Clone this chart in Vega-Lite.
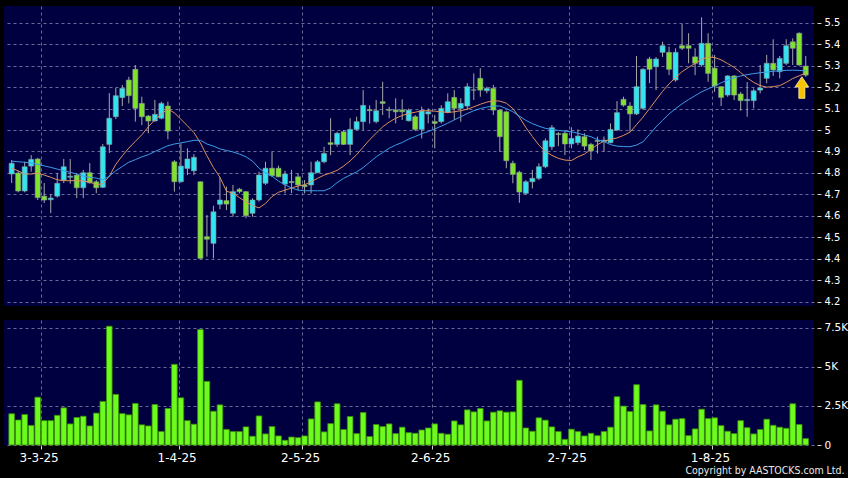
{
 "$schema": "https://vega.github.io/schema/vega-lite/v6.json",
 "background": "#000000",
 "padding": {"left": 4, "top": 6, "right": 0, "bottom": 2},
 "title": {"text": "Copyright by AASTOCKS.com Ltd.", "orient": "bottom", "anchor": "end", "fontSize": 10.5, "font": "DejaVu Sans Condensed, DejaVu Sans", "fontWeight": "normal", "color": "#e8e8e8", "offset": 3, "dx": -3},
 "datasets": {
  "k": [
   {"i":0,"o":4.795,"h":4.86,"l":4.753,"c":4.845,"v":2000,"m1":4.822,"m2":4.855},
   {"i":1,"o":4.8,"h":4.81,"l":4.71,"c":4.716,"v":1600,"m1":4.81,"m2":4.852},
   {"i":2,"o":4.716,"h":4.852,"l":4.71,"c":4.829,"v":1950,"m1":4.795,"m2":4.85},
   {"i":3,"o":4.832,"h":4.883,"l":4.806,"c":4.863,"v":1250,"m1":4.795,"m2":4.846},
   {"i":4,"o":4.865,"h":4.87,"l":4.674,"c":4.685,"v":3060,"m1":4.8,"m2":4.84},
   {"i":5,"o":4.692,"h":4.753,"l":4.66,"c":4.674,"v":1560,"m1":4.79,"m2":4.833},
   {"i":6,"o":4.675,"h":4.7,"l":4.613,"c":4.683,"v":1560,"m1":4.78,"m2":4.826},
   {"i":7,"o":4.692,"h":4.8,"l":4.685,"c":4.752,"v":1900,"m1":4.768,"m2":4.818},
   {"i":8,"o":4.767,"h":4.865,"l":4.753,"c":4.829,"v":2380,"m1":4.764,"m2":4.81},
   {"i":9,"o":4.78,"h":4.865,"l":4.75,"c":4.785,"v":1350,"m1":4.764,"m2":4.803},
   {"i":10,"o":4.79,"h":4.8,"l":4.683,"c":4.731,"v":1760,"m1":4.764,"m2":4.795},
   {"i":11,"o":4.731,"h":4.814,"l":4.683,"c":4.801,"v":1840,"m1":4.762,"m2":4.785},
   {"i":12,"o":4.801,"h":4.846,"l":4.75,"c":4.754,"v":1220,"m1":4.758,"m2":4.78},
   {"i":13,"o":4.759,"h":4.767,"l":4.706,"c":4.731,"v":2040,"m1":4.745,"m2":4.776},
   {"i":14,"o":4.733,"h":4.935,"l":4.73,"c":4.922,"v":2790,"m1":4.75,"m2":4.768},
   {"i":15,"o":4.933,"h":5.172,"l":4.893,"c":5.055,"v":7600,"m1":4.785,"m2":4.785},
   {"i":16,"o":5.062,"h":5.196,"l":5.051,"c":5.16,"v":3240,"m1":4.84,"m2":4.81},
   {"i":17,"o":5.151,"h":5.21,"l":5.112,"c":5.194,"v":2010,"m1":4.88,"m2":4.83},
   {"i":18,"o":5.233,"h":5.248,"l":5.124,"c":5.16,"v":1930,"m1":4.916,"m2":4.85},
   {"i":19,"o":5.283,"h":5.303,"l":5.039,"c":5.101,"v":2660,"m1":4.947,"m2":4.862},
   {"i":20,"o":5.124,"h":5.155,"l":5.023,"c":5.062,"v":1290,"m1":4.978,"m2":4.875},
   {"i":21,"o":5.065,"h":5.07,"l":4.985,"c":5.042,"v":1220,"m1":5.015,"m2":4.885},
   {"i":22,"o":5.042,"h":5.14,"l":5.04,"c":5.073,"v":2590,"m1":5.048,"m2":4.9},
   {"i":23,"o":5.055,"h":5.132,"l":5.05,"c":5.124,"v":860,"m1":5.075,"m2":4.913},
   {"i":24,"o":5.112,"h":5.132,"l":4.957,"c":4.995,"v":2340,"m1":5.098,"m2":4.927},
   {"i":25,"o":4.852,"h":4.86,"l":4.713,"c":4.759,"v":5160,"m1":5.08,"m2":4.935},
   {"i":26,"o":4.759,"h":4.938,"l":4.755,"c":4.832,"v":3020,"m1":5.05,"m2":4.94},
   {"i":27,"o":4.821,"h":4.915,"l":4.79,"c":4.865,"v":1560,"m1":5.02,"m2":4.946},
   {"i":28,"o":4.81,"h":4.888,"l":4.79,"c":4.873,"v":1330,"m1":4.988,"m2":4.952},
   {"i":29,"o":4.759,"h":4.76,"l":4.4,"c":4.402,"v":7390,"m1":4.94,"m2":4.952},
   {"i":30,"o":4.503,"h":4.604,"l":4.41,"c":4.491,"v":4070,"m1":4.88,"m2":4.935},
   {"i":31,"o":4.472,"h":4.647,"l":4.402,"c":4.619,"v":2160,"m1":4.825,"m2":4.925},
   {"i":32,"o":4.654,"h":4.781,"l":4.631,"c":4.674,"v":2570,"m1":4.78,"m2":4.912},
   {"i":33,"o":4.671,"h":4.736,"l":4.627,"c":4.655,"v":1000,"m1":4.715,"m2":4.905},
   {"i":34,"o":4.612,"h":4.744,"l":4.596,"c":4.713,"v":860,"m1":4.705,"m2":4.898},
   {"i":35,"o":4.724,"h":4.73,"l":4.705,"c":4.713,"v":860,"m1":4.685,"m2":4.888},
   {"i":36,"o":4.713,"h":4.715,"l":4.589,"c":4.601,"v":1160,"m1":4.665,"m2":4.875},
   {"i":37,"o":4.612,"h":4.682,"l":4.596,"c":4.674,"v":560,"m1":4.648,"m2":4.855},
   {"i":38,"o":4.674,"h":4.806,"l":4.666,"c":4.79,"v":1860,"m1":4.637,"m2":4.822},
   {"i":39,"o":4.752,"h":4.852,"l":4.744,"c":4.822,"v":710,"m1":4.658,"m2":4.8},
   {"i":40,"o":4.822,"h":4.899,"l":4.782,"c":4.787,"v":1180,"m1":4.69,"m2":4.785},
   {"i":41,"o":4.822,"h":4.834,"l":4.78,"c":4.782,"v":580,"m1":4.71,"m2":4.762},
   {"i":42,"o":4.748,"h":4.81,"l":4.705,"c":4.795,"v":300,"m1":4.72,"m2":4.745},
   {"i":43,"o":4.76,"h":4.814,"l":4.706,"c":4.755,"v":510,"m1":4.73,"m2":4.73},
   {"i":44,"o":4.782,"h":4.798,"l":4.72,"c":4.744,"v":470,"m1":4.739,"m2":4.72},
   {"i":45,"o":4.744,"h":4.767,"l":4.705,"c":4.736,"v":580,"m1":4.745,"m2":4.717},
   {"i":46,"o":4.744,"h":4.852,"l":4.705,"c":4.801,"v":1670,"m1":4.759,"m2":4.717},
   {"i":47,"o":4.801,"h":4.86,"l":4.8,"c":4.852,"v":2760,"m1":4.775,"m2":4.717},
   {"i":48,"o":4.852,"h":4.922,"l":4.845,"c":4.891,"v":840,"m1":4.79,"m2":4.717},
   {"i":49,"o":4.941,"h":5.055,"l":4.883,"c":4.933,"v":1370,"m1":4.8,"m2":4.73},
   {"i":50,"o":4.933,"h":4.992,"l":4.922,"c":4.985,"v":2640,"m1":4.812,"m2":4.755},
   {"i":51,"o":4.992,"h":5.0,"l":4.93,"c":4.933,"v":990,"m1":4.832,"m2":4.775},
   {"i":52,"o":4.933,"h":5.055,"l":4.883,"c":5.003,"v":1820,"m1":4.856,"m2":4.79},
   {"i":53,"o":5.003,"h":5.062,"l":5.0,"c":5.039,"v":730,"m1":4.885,"m2":4.805},
   {"i":54,"o":5.039,"h":5.186,"l":5.0,"c":5.115,"v":2080,"m1":4.92,"m2":4.825},
   {"i":55,"o":5.095,"h":5.115,"l":5.03,"c":5.09,"v":540,"m1":4.955,"m2":4.85},
   {"i":56,"o":5.039,"h":5.14,"l":5.031,"c":5.09,"v":1310,"m1":4.985,"m2":4.875},
   {"i":57,"o":5.132,"h":5.225,"l":5.07,"c":5.124,"v":1180,"m1":5.015,"m2":4.895},
   {"i":58,"o":5.095,"h":5.109,"l":5.055,"c":5.092,"v":1350,"m1":5.037,"m2":4.915},
   {"i":59,"o":5.093,"h":5.148,"l":5.031,"c":5.085,"v":730,"m1":5.055,"m2":4.93},
   {"i":60,"o":5.093,"h":5.143,"l":5.047,"c":5.085,"v":1140,"m1":5.068,"m2":4.942},
   {"i":61,"o":5.043,"h":5.1,"l":5.04,"c":5.093,"v":790,"m1":5.077,"m2":4.958},
   {"i":62,"o":5.062,"h":5.07,"l":4.995,"c":5.003,"v":750,"m1":5.083,"m2":4.97},
   {"i":63,"o":5.003,"h":5.109,"l":4.961,"c":5.09,"v":960,"m1":5.09,"m2":4.983},
   {"i":64,"o":5.075,"h":5.101,"l":5.031,"c":5.085,"v":1090,"m1":5.09,"m2":4.993},
   {"i":65,"o":5.039,"h":5.07,"l":4.915,"c":5.031,"v":1350,"m1":5.088,"m2":5.005},
   {"i":66,"o":5.039,"h":5.116,"l":5.031,"c":5.101,"v":750,"m1":5.085,"m2":5.018},
   {"i":67,"o":5.082,"h":5.171,"l":5.078,"c":5.132,"v":690,"m1":5.082,"m2":5.032},
   {"i":68,"o":5.152,"h":5.186,"l":5.047,"c":5.101,"v":1540,"m1":5.085,"m2":5.047},
   {"i":69,"o":5.101,"h":5.148,"l":5.039,"c":5.124,"v":1290,"m1":5.09,"m2":5.062},
   {"i":70,"o":5.112,"h":5.218,"l":5.093,"c":5.202,"v":2250,"m1":5.097,"m2":5.077},
   {"i":71,"o":5.187,"h":5.264,"l":5.14,"c":5.186,"v":2120,"m1":5.108,"m2":5.09},
   {"i":72,"o":5.241,"h":5.288,"l":5.155,"c":5.186,"v":2340,"m1":5.12,"m2":5.1},
   {"i":73,"o":5.183,"h":5.202,"l":5.171,"c":5.194,"v":1540,"m1":5.13,"m2":5.107},
   {"i":74,"o":5.194,"h":5.21,"l":5.07,"c":5.093,"v":2100,"m1":5.136,"m2":5.112},
   {"i":75,"o":5.093,"h":5.095,"l":4.899,"c":4.969,"v":2190,"m1":5.135,"m2":5.112},
   {"i":76,"o":5.085,"h":5.09,"l":4.822,"c":4.857,"v":2100,"m1":5.125,"m2":5.1},
   {"i":77,"o":4.845,"h":4.857,"l":4.752,"c":4.793,"v":2120,"m1":5.1,"m2":5.085},
   {"i":78,"o":4.803,"h":4.81,"l":4.661,"c":4.711,"v":4140,"m1":5.06,"m2":5.065},
   {"i":79,"o":4.705,"h":4.767,"l":4.697,"c":4.759,"v":1090,"m1":5.012,"m2":5.045},
   {"i":80,"o":4.759,"h":4.814,"l":4.728,"c":4.775,"v":880,"m1":4.97,"m2":5.03},
   {"i":81,"o":4.775,"h":4.845,"l":4.767,"c":4.829,"v":1740,"m1":4.93,"m2":5.018},
   {"i":82,"o":4.829,"h":4.961,"l":4.822,"c":4.95,"v":1590,"m1":4.9,"m2":5.008},
   {"i":83,"o":4.922,"h":5.023,"l":4.907,"c":5.011,"v":1160,"m1":4.882,"m2":5.003},
   {"i":84,"o":4.983,"h":4.99,"l":4.925,"c":4.979,"v":860,"m1":4.868,"m2":4.998},
   {"i":85,"o":4.985,"h":5.0,"l":4.883,"c":4.935,"v":360,"m1":4.86,"m2":4.995},
   {"i":86,"o":4.935,"h":5.013,"l":4.915,"c":4.961,"v":1010,"m1":4.858,"m2":4.992},
   {"i":87,"o":4.941,"h":5.003,"l":4.93,"c":4.972,"v":860,"m1":4.875,"m2":4.985},
   {"i":88,"o":4.969,"h":4.985,"l":4.907,"c":4.925,"v":580,"m1":4.888,"m2":4.977},
   {"i":89,"o":4.933,"h":4.94,"l":4.86,"c":4.903,"v":750,"m1":4.91,"m2":4.969},
   {"i":90,"o":4.951,"h":4.969,"l":4.891,"c":4.947,"v":600,"m1":4.932,"m2":4.955},
   {"i":91,"o":4.946,"h":4.97,"l":4.9,"c":4.953,"v":860,"m1":4.948,"m2":4.946},
   {"i":92,"o":4.941,"h":5.031,"l":4.938,"c":5.003,"v":1140,"m1":4.956,"m2":4.932},
   {"i":93,"o":5.0,"h":5.135,"l":4.995,"c":5.081,"v":3090,"m1":4.963,"m2":4.925},
   {"i":94,"o":5.143,"h":5.155,"l":5.109,"c":5.116,"v":2490,"m1":4.975,"m2":4.923},
   {"i":95,"o":5.112,"h":5.13,"l":4.992,"c":5.075,"v":2140,"m1":4.99,"m2":4.922},
   {"i":96,"o":5.075,"h":5.345,"l":5.07,"c":5.202,"v":3860,"m1":5.025,"m2":4.93},
   {"i":97,"o":5.101,"h":5.288,"l":5.093,"c":5.283,"v":2590,"m1":5.06,"m2":4.945},
   {"i":98,"o":5.331,"h":5.341,"l":5.218,"c":5.283,"v":900,"m1":5.1,"m2":4.98},
   {"i":99,"o":5.295,"h":5.34,"l":5.186,"c":5.331,"v":2570,"m1":5.14,"m2":5.015},
   {"i":100,"o":5.362,"h":5.411,"l":5.341,"c":5.393,"v":2160,"m1":5.18,"m2":5.045},
   {"i":101,"o":5.362,"h":5.388,"l":5.256,"c":5.283,"v":1290,"m1":5.215,"m2":5.075},
   {"i":102,"o":5.233,"h":5.381,"l":5.225,"c":5.362,"v":1650,"m1":5.245,"m2":5.1},
   {"i":103,"o":5.393,"h":5.494,"l":5.373,"c":5.381,"v":1690,"m1":5.272,"m2":5.122},
   {"i":104,"o":5.393,"h":5.451,"l":5.311,"c":5.381,"v":600,"m1":5.292,"m2":5.142},
   {"i":105,"o":5.341,"h":5.381,"l":5.256,"c":5.311,"v":1030,"m1":5.31,"m2":5.16},
   {"i":106,"o":5.303,"h":5.525,"l":5.295,"c":5.404,"v":2290,"m1":5.33,"m2":5.178},
   {"i":107,"o":5.404,"h":5.451,"l":5.225,"c":5.264,"v":1690,"m1":5.34,"m2":5.192},
   {"i":108,"o":5.288,"h":5.35,"l":5.178,"c":5.205,"v":1740,"m1":5.338,"m2":5.205},
   {"i":109,"o":5.202,"h":5.205,"l":5.112,"c":5.152,"v":1240,"m1":5.327,"m2":5.22},
   {"i":110,"o":5.163,"h":5.256,"l":5.155,"c":5.252,"v":880,"m1":5.31,"m2":5.233},
   {"i":111,"o":5.252,"h":5.256,"l":5.14,"c":5.163,"v":730,"m1":5.292,"m2":5.243},
   {"i":112,"o":5.168,"h":5.178,"l":5.09,"c":5.137,"v":1560,"m1":5.268,"m2":5.252},
   {"i":113,"o":5.137,"h":5.224,"l":5.062,"c":5.143,"v":1110,"m1":5.243,"m2":5.258},
   {"i":114,"o":5.137,"h":5.194,"l":5.101,"c":5.183,"v":710,"m1":5.222,"m2":5.263},
   {"i":115,"o":5.186,"h":5.303,"l":5.171,"c":5.196,"v":990,"m1":5.207,"m2":5.267},
   {"i":116,"o":5.241,"h":5.35,"l":5.218,"c":5.311,"v":1650,"m1":5.2,"m2":5.27},
   {"i":117,"o":5.311,"h":5.423,"l":5.252,"c":5.28,"v":1260,"m1":5.202,"m2":5.274},
   {"i":118,"o":5.272,"h":5.345,"l":5.241,"c":5.334,"v":1140,"m1":5.207,"m2":5.276},
   {"i":119,"o":5.311,"h":5.423,"l":5.303,"c":5.393,"v":1070,"m1":5.222,"m2":5.278},
   {"i":120,"o":5.411,"h":5.427,"l":5.303,"c":5.381,"v":2640,"m1":5.24,"m2":5.279},
   {"i":121,"o":5.451,"h":5.455,"l":5.3,"c":5.303,"v":1310,"m1":5.253,"m2":5.278},
   {"i":122,"o":5.298,"h":5.345,"l":5.248,"c":5.256,"v":410,"m1":5.265,"m2":5.276}
  ],
  "arrow": [{"i": 121.4, "p": 5.198}]
 },
 "spacing": 13,
 "vconcat": [
  {
   "width": 810,
   "height": 300,
   "data": {"name": "k"},
   "encoding": {
    "x": {"field": "i", "type": "quantitative", "title": null,
          "scale": {"domain": [-0.41, 122.5], "nice": false, "zero": false},
          "axis": {"orient": "bottom", "values": [4.45, 25.65, 44.61, 64.61, 85.58, 107.59], "grid": true, "labels": false, "ticks": false, "domain": false, "title": null}}
   },
   "layer": [
    {"mark": {"type": "rule", "color": "#a8a8a8", "strokeWidth": 1},
     "encoding": {
      "y": {"field": "l", "type": "quantitative", "title": null,
            "scale": {"domain": [4.18, 5.578], "nice": false, "zero": false},
            "axis": {"orient": "right", "values": [4.2,4.3,4.4,4.5,4.6,4.7,4.8,4.9,5.0,5.1,5.2,5.3,5.4,5.5], "format": ".1~f", "grid": true, "labelOverlap": false, "labelFontSize": 10, "tickSize": 4, "offset": 3, "labelPadding": 3, "domain": false, "title": null}},
      "y2": {"field": "h"}
     }},
    {"mark": {"type": "bar", "size": 5, "stroke": "#8c9c9c", "strokeWidth": 0.6},
     "encoding": {
      "y": {"field": "o", "type": "quantitative", "title": null,
            "axis": {"orient": "right", "values": [4.2,4.3,4.4,4.5,4.6,4.7,4.8,4.9,5.0,5.1,5.2,5.3,5.4,5.5], "format": ".1~f", "grid": true, "labelOverlap": false, "labelFontSize": 10, "tickSize": 4, "offset": 3, "labelPadding": 3, "domain": false, "title": null}},
      "y2": {"field": "c"},
      "color": {"condition": {"test": "datum.c > datum.o", "value": "#30e4f0"}, "value": "#80e22a"}
     }},
    {"mark": {"type": "line", "color": "#e0905c", "strokeWidth": 1},
     "encoding": {"y": {"field": "m1", "type": "quantitative", "title": null,
            "axis": {"orient": "right", "values": [4.2,4.3,4.4,4.5,4.6,4.7,4.8,4.9,5.0,5.1,5.2,5.3,5.4,5.5], "format": ".1~f", "grid": true, "labelOverlap": false, "labelFontSize": 10, "tickSize": 4, "offset": 3, "labelPadding": 3, "domain": false, "title": null}}}},
    {"mark": {"type": "line", "color": "#3c9de6", "strokeWidth": 1},
     "encoding": {"y": {"field": "m2", "type": "quantitative", "title": null,
            "axis": {"orient": "right", "values": [4.2,4.3,4.4,4.5,4.6,4.7,4.8,4.9,5.0,5.1,5.2,5.3,5.4,5.5], "format": ".1~f", "grid": true, "labelOverlap": false, "labelFontSize": 10, "tickSize": 4, "offset": 3, "labelPadding": 3, "domain": false, "title": null}}}},
    {"data": {"name": "arrow"},
     "mark": {"type": "point", "shape": "M0,-1L0.63,-0.05L0.28,-0.05L0.28,1L-0.28,1L-0.28,-0.05L-0.63,-0.05Z", "size": 467, "filled": true, "fill": "#f5c400", "stroke": "#fff0a0", "strokeWidth": 0.8, "opacity": 1},
     "encoding": {"y": {"field": "p", "type": "quantitative", "title": null,
            "axis": {"orient": "right", "values": [4.2,4.3,4.4,4.5,4.6,4.7,4.8,4.9,5.0,5.1,5.2,5.3,5.4,5.5], "format": ".1~f", "grid": true, "labelOverlap": false, "labelFontSize": 10, "tickSize": 4, "offset": 3, "labelPadding": 3, "domain": false, "title": null}}}}
   ]
  },
  {
   "width": 810,
   "height": 125,
   "data": {"name": "k"},
   "mark": {"type": "bar", "size": 5.6, "fill": "#6dfb1e", "stroke": "#3e8f0a", "strokeWidth": 0.8},
   "encoding": {
    "x": {"field": "i", "type": "quantitative", "title": null,
          "scale": {"domain": [-0.41, 122.5], "nice": false, "zero": false},
          "axis": {"orient": "bottom", "values": [4.45, 25.65, 44.61, 64.61, 85.58, 107.59],
                   "labelExpr": "datum.value < 10 ? '3-3-25' : datum.value < 30 ? '1-4-25' : datum.value < 50 ? '2-5-25' : datum.value < 70 ? '2-6-25' : datum.value < 90 ? '2-7-25' : '1-8-25'",
                   "grid": true, "labelFontSize": 12, "tickSize": 4, "labelPadding": 3, "labelOffset": -2, "labelFlush": false, "labelOverlap": false, "domain": false, "title": null}},
    "y": {"field": "v", "type": "quantitative", "title": null,
          "scale": {"domain": [0, 8000], "nice": false, "zero": true},
          "axis": {"orient": "right", "values": [0, 2500, 5000, 7500], "labelExpr": "datum.value == 0 ? '0' : (datum.value / 1000) + 'K'", "grid": true, "labelOverlap": false, "labelFontSize": 10.5, "tickSize": 4, "offset": 3, "labelPadding": 3, "domain": false, "title": null}}
   }
  }
 ],
 "config": {
  "view": {"fill": "#000040", "stroke": null},
  "axis": {"labelColor": "#ffffff", "labelFont": "DejaVu Sans", "tickColor": "#d0d0d0", "gridColor": "#6a6a9a", "gridDash": [3, 3], "gridWidth": 1, "domain": false}
 }
}
